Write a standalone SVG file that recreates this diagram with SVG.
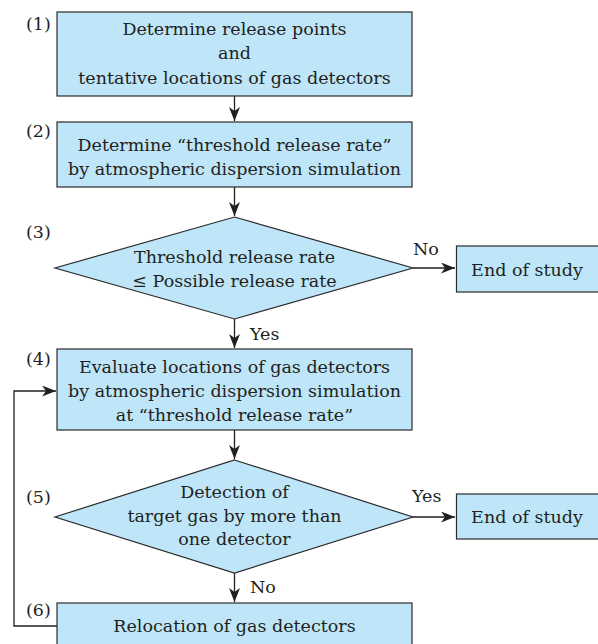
<svg xmlns="http://www.w3.org/2000/svg" width="598" height="644" viewBox="0 0 598 644">
<style>
.box{fill:#bee6f8;stroke:#2b2b2b;stroke-width:1.2}
.t{font-family:"DejaVu Serif","Liberation Serif",serif;font-size:17.5px;fill:#231f20;text-anchor:middle}
.lbl{font-family:"DejaVu Serif","Liberation Serif",serif;font-size:17.5px;fill:#231f20}
.c{fill:none;stroke:#231f20;stroke-width:1.3}
</style>
<defs>
<marker id="ah" markerUnits="userSpaceOnUse" markerWidth="15" markerHeight="12" refX="14" refY="5.5" orient="auto">
<path d="M0,0 L14,5.5 L0,11 L4,5.5 z" fill="#231f20"/>
</marker>
</defs>
<g id="connectors">
<line class="c" x1="234.5" y1="96" x2="234.5" y2="121" marker-end="url(#ah)"/>
<line class="c" x1="234.5" y1="187" x2="234.5" y2="216" marker-end="url(#ah)"/>
<line class="c" x1="234.5" y1="319" x2="234.5" y2="348" marker-end="url(#ah)"/>
<line class="c" x1="413" y1="268" x2="455" y2="268" marker-end="url(#ah)"/>
<line class="c" x1="234.5" y1="430" x2="234.5" y2="459" marker-end="url(#ah)"/>
<line class="c" x1="413" y1="517" x2="455" y2="517" marker-end="url(#ah)"/>
<line class="c" x1="234.5" y1="573" x2="234.5" y2="602" marker-end="url(#ah)"/>
<polyline class="c" points="57,626 14,626 14,391 56,391" marker-end="url(#ah)"/>
<text class="lbl" x="250" y="340">Yes</text>
<text class="lbl" x="413" y="255">No</text>
<text class="lbl" x="412" y="502">Yes</text>
<text class="lbl" x="250" y="593">No</text>
</g>
<g id="n1">
<rect class="box" x="57" y="12" width="355" height="84"/>
<text class="t" x="234.5" y="35">Determine release points</text>
<text class="t" x="234.5" y="59">and</text>
<text class="t" x="234.5" y="84">tentative locations of gas detectors</text>
<text class="lbl" x="26" y="30">(1)</text>
</g>
<g id="n2">
<rect class="box" x="57" y="122" width="355" height="65"/>
<text class="t" x="234.5" y="151">Determine “threshold release rate”</text>
<text class="t" x="234.5" y="175">by atmospheric dispersion simulation</text>
<text class="lbl" x="26" y="137">(2)</text>
</g>
<g id="n3">
<polygon class="box" points="234.5,217 413,268 234.5,319 55,268"/>
<text class="t" x="234.5" y="263">Threshold release rate</text>
<text class="t" x="234.5" y="287">≤ Possible release rate</text>
<text class="lbl" x="26" y="238">(3)</text>
</g>
<g id="end1">
<rect class="box" x="456.5" y="246" width="146" height="46"/>
<text class="t" x="527" y="276">End of study</text>
</g>
<g id="n4">
<rect class="box" x="57" y="349" width="355" height="81"/>
<text class="t" x="234.5" y="373">Evaluate locations of gas detectors</text>
<text class="t" x="234.5" y="397">by atmospheric dispersion simulation</text>
<text class="t" x="234.5" y="421">at “threshold release rate”</text>
<text class="lbl" x="26" y="365">(4)</text>
</g>
<g id="n5">
<polygon class="box" points="234.5,460 413,517 234.5,573 55,517"/>
<text class="t" x="234.5" y="498">Detection of</text>
<text class="t" x="234.5" y="522">target gas by more than</text>
<text class="t" x="234.5" y="545">one detector</text>
<text class="lbl" x="26" y="503">(5)</text>
</g>
<g id="end2">
<rect class="box" x="456.5" y="494" width="146" height="45"/>
<text class="t" x="527" y="523">End of study</text>
</g>
<g id="n6">
<rect class="box" x="57" y="603" width="355" height="60"/>
<text class="t" x="234.5" y="632">Relocation of gas detectors</text>
<text class="lbl" x="26" y="616">(6)</text>
</g>
</svg>
